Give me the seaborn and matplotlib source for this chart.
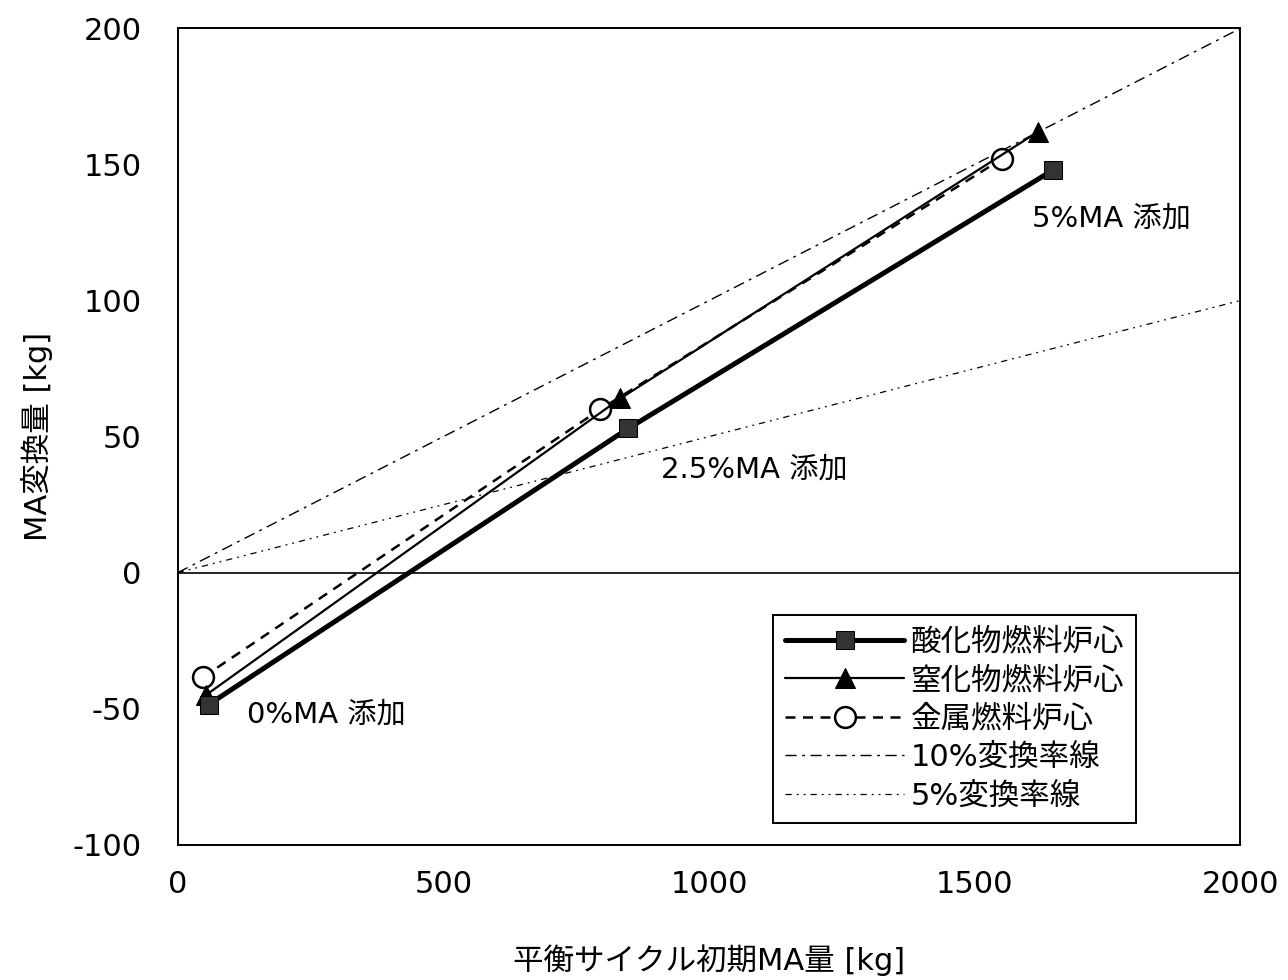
import matplotlib
matplotlib.use("Agg")
import matplotlib.pyplot as plt
import seaborn as sns
import pandas as pd
import numpy as np

# ---- data ----
oxide_x = [58, 848, 1648]
oxide_y = [-48.5, 53, 148]
nitride_x = [53, 833, 1619]
nitride_y = [-45, 64, 162]
metal_x = [47, 795, 1551]
metal_y = [-38.5, 60, 152]
ref_x = [0, 2000]
ref10_y = [0, 200]
ref5_y = [0, 100]

series_names = ["酸化物燃料炉心", "窒化物燃料炉心", "金属燃料炉心", "10%変換率線", "5%変換率線"]
annot_texts = ["0%MA 添加", "2.5%MA 添加", "5%MA 添加"]
annot_x = [130, 910, 1608]
annot_y = [-52, 38, 130]

xticks = [0, 500, 1000, 1500, 2000]
yticks = [-100, -50, 0, 50, 100, 150, 200]

sns.set_theme(style="white")
plt.rcParams['font.family'] = ['DejaVu Sans', 'Noto Sans CJK JP']
plt.rcParams['text.color'] = 'black'
plt.rcParams['axes.labelcolor'] = 'black'
plt.rcParams['xtick.color'] = 'black'
plt.rcParams['ytick.color'] = 'black'

fig = plt.figure(figsize=(12.88, 9.8), dpi=100)
ax = fig.add_axes([0.138, 0.138, 0.825, 0.833])

FS = 22

# reference lines
sns.lineplot(x=ref_x, y=ref10_y, ax=ax, color="black", lw=1.0,
             linestyle=(0, (8, 4, 2, 4)), label=series_names[3], zorder=2)
sns.lineplot(x=ref_x, y=ref5_y, ax=ax, color="black", lw=0.9,
             linestyle=(0, (5, 4, 1.5, 4, 1.5, 4)), label=series_names[4], zorder=2)

# data series
sns.lineplot(x=metal_x, y=metal_y, ax=ax, color="black", lw=1.8,
             linestyle=(0, (4, 3)), marker="o", markersize=15,
             markerfacecolor="white", markeredgecolor="black", markeredgewidth=1.8,
             label=series_names[2], zorder=4, sort=False)
sns.lineplot(x=nitride_x, y=nitride_y, ax=ax, color="black", lw=1.6,
             marker="^", markersize=15, markerfacecolor="black",
             markeredgecolor="black", label=series_names[1], zorder=5, sort=False)
sns.lineplot(x=oxide_x, y=oxide_y, ax=ax, color="black", lw=3.6,
             marker="s", markersize=13, markerfacecolor="#333333",
             markeredgecolor="black", label=series_names[0], zorder=6, sort=False)

ax.set_xlim(0, 2000)
ax.set_ylim(-100, 200)
ax.set_yticks(yticks)
ax.set_yticklabels([str(v) for v in yticks], fontsize=FS, color='black')

# zero-crossing x axis with inward ticks, labels at bottom
ax.spines['bottom'].set_position(('data', 0))
ax.spines['bottom'].set_linewidth(1.2)
ax.set_xticks(xticks)
ax.tick_params(axis='x', direction='in', length=8, width=1, labelbottom=False, colors='black')
ax.tick_params(axis='y', direction='in', length=5, width=1, pad=26, colors='black')
ax.tick_params(axis='y', labelsize=FS)
for s in ['left', 'right', 'top']:
    ax.spines[s].set_visible(True)
    ax.spines[s].set_color('black')
    ax.spines[s].set_linewidth(1.4)
ax.spines['bottom'].set_color('black')

sec = ax.secondary_xaxis(0.0)
sec.set_xticks(xticks)
sec.set_xticklabels([str(v) for v in xticks], fontsize=FS, color='black')
sec.tick_params(axis='x', length=0, pad=18)
sec.spines['bottom'].set_linewidth(1.4)
sec.spines['bottom'].set_color('black')

ax.set_xlabel("")
sec.set_xlabel("平衡サイクル初期MA量 [kg]", fontsize=FS, labelpad=33, color='black')
ax.set_ylabel("MA変換量 [kg]", fontsize=FS, labelpad=14, color='black')

for t, x, y in zip(annot_texts, annot_x, annot_y):
    ax.text(x, y, t, fontsize=FS - 1, ha='left', va='center', color='black')

handles, labels = ax.get_legend_handles_labels()
order = [labels.index(n) for n in series_names]
leg = ax.legend([handles[i] for i in order], [labels[i] for i in order],
                loc='lower right', bbox_to_anchor=(0.902, 0.027), fontsize=FS,
                frameon=True, fancybox=False, edgecolor='black', framealpha=1,
                handlelength=3.9, handletextpad=0.2, borderpad=0.4,
                labelspacing=0.31, borderaxespad=0)
leg.get_frame().set_linewidth(1.4)
for t in leg.get_texts():
    t.set_color('black')

fig.savefig("out.png", dpi=100, facecolor="white")
